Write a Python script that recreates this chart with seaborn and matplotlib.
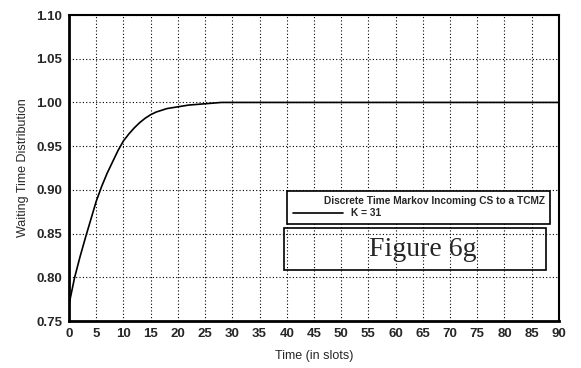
import matplotlib
matplotlib.use("Agg")
import matplotlib.pyplot as plt
import seaborn as sns
import pandas as pd
from matplotlib.patches import Rectangle

time_slots = [0, 1, 2, 3, 4, 5, 6, 7, 8, 9, 10, 11, 12, 13, 14, 15, 16, 17, 18, 19, 20,
              22, 24, 26, 28, 30, 40, 50, 60, 70, 80, 90]
waiting_dist = [0.769, 0.799, 0.823, 0.845, 0.866, 0.887, 0.904, 0.919, 0.932, 0.945, 0.956,
                0.964, 0.971, 0.977, 0.982, 0.986, 0.989, 0.991, 0.993, 0.994, 0.995,
                0.997, 0.998, 0.999, 1.0, 1.0, 1.0, 1.0, 1.0, 1.0, 1.0, 1.0]
series_name = "K = 31"
legend_title = "Discrete Time Markov Incoming CS to a TCMZ"
x_ticks = [0, 5, 10, 15, 20, 25, 30, 35, 40, 45, 50, 55, 60, 65, 70, 75, 80, 85, 90]
y_ticks = [0.75, 0.80, 0.85, 0.90, 0.95, 1.00, 1.05, 1.10]

df = pd.DataFrame({"Time": time_slots, "Value": waiting_dist,
                   "Series": [series_name] * len(time_slots)})

sns.set_style("white")
plt.rcParams['font.family'] = ['Liberation Sans', 'DejaVu Sans']

fig = plt.figure(figsize=(5.81, 3.68), dpi=100)
ax = fig.add_axes([0.1188, 0.1277, 0.8432, 0.8315])

sns.lineplot(data=df, x="Time", y="Value", hue="Series", palette=["black"],
             linewidth=1.2, ax=ax)

ax.set_xlim(0, 90)
ax.set_ylim(0.75, 1.10)
ax.set_xticks(x_ticks)
ax.set_yticks(y_ticks)
ax.set_xticklabels([str(t) for t in x_ticks], fontsize=9.5, fontweight='bold')
ax.set_yticklabels([f"{t:.2f}" for t in y_ticks], fontsize=9.5, fontweight='bold')
ax.tick_params(axis='both', length=3, width=1, color='black', pad=2, direction='out')
ax.grid(True, linestyle=(0, (1, 2)), color='black', linewidth=0.8)
for s in ax.spines.values():
    s.set_color('black')
    s.set_linewidth(1.5)
ax.spines['left'].set_linewidth(2)
ax.spines['bottom'].set_linewidth(2)

ax.set_xlabel("Time (in slots)", fontsize=9, labelpad=7)
ax.set_ylabel("Waiting Time Distribution", fontsize=9, labelpad=5)

leg = ax.legend(title=legend_title, loc='upper left',
                bbox_to_anchor=(0.445, 0.314, 0.537, 0.112), mode='expand',
                frameon=True, fancybox=False, fontsize=7.3, title_fontsize=7.3,
                borderpad=0.55, handlelength=5, labelspacing=0.2, borderaxespad=0)
leg.get_frame().set_edgecolor('black')
leg.get_frame().set_linewidth(1.2)
leg.get_frame().set_alpha(1)
leg.get_title().set_fontweight('bold')
leg._legend_box.align = "right"
for t in leg.get_texts():
    t.set_fontweight('bold')

rect = Rectangle((0.439, 0.167), 0.534, 0.137, transform=ax.transAxes,
                 facecolor='none', edgecolor='black', linewidth=1.2, zorder=5)
ax.add_patch(rect)
ax.text(0.722, 0.235, "Figure 6g", transform=ax.transAxes, fontsize=20,
        family='Liberation Serif', ha='center', va='center', zorder=6)

fig.savefig("out.png", dpi=100)
